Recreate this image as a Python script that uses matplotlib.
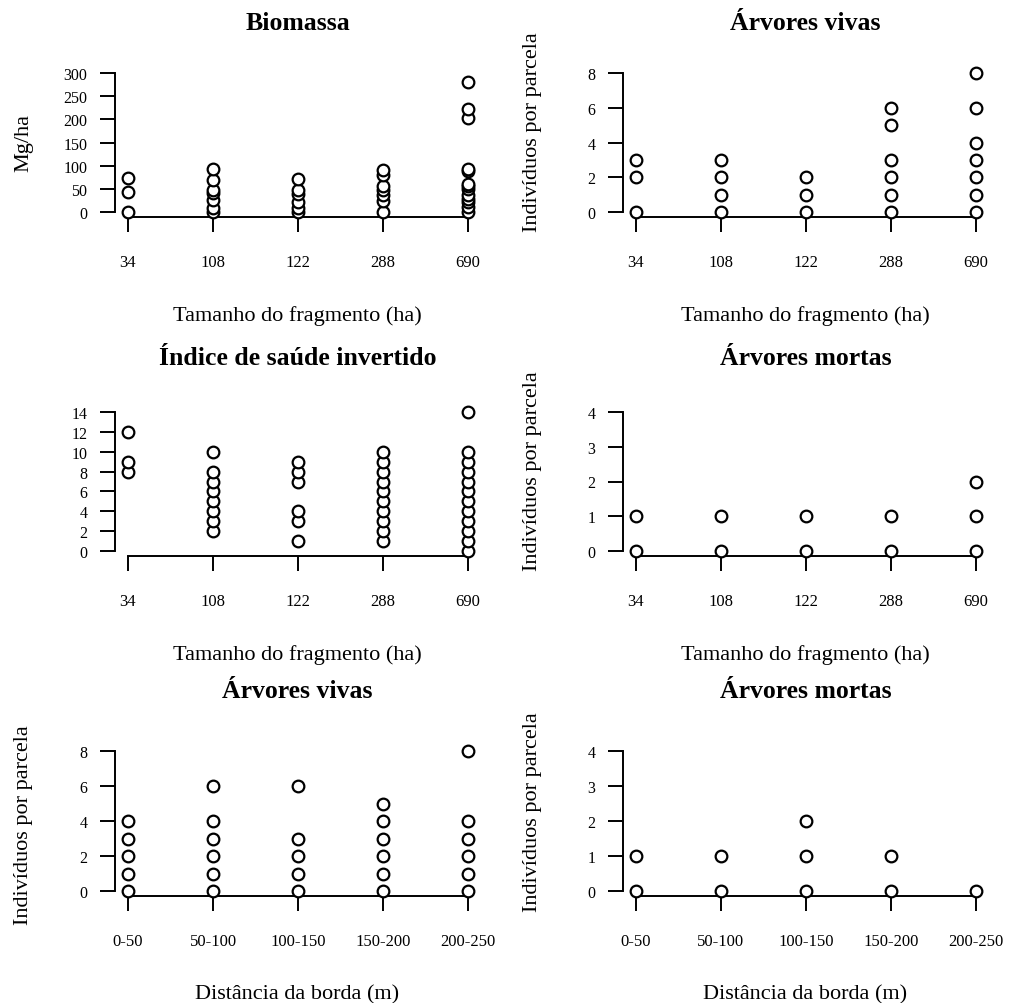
import numpy as np
import matplotlib
matplotlib.use('Agg')
import matplotlib.pyplot as plt
import matplotlib.transforms as mtransforms

plt.rcParams['font.family'] = ['Liberation Serif', 'DejaVu Serif']

# categories
tamanhos = ['34', '108', '122', '288', '690']
distancias = ['0-50', '50-100', '100-150', '150-200', '200-250']

# Biomassa (Mg/ha) by fragment size
biomassa = [
    [0, 43, 73],
    [0, 9, 25, 40, 47, 70, 93],
    [0, 9, 22, 38, 47, 72],
    [0, 23, 36, 47, 56, 80, 90],
    [0, 11, 22, 29, 36, 50, 56, 61, 88, 93, 203, 222, 280],
]
# live trees by fragment size
vivas_tam = [
    [0, 2, 3],
    [0, 1, 2, 3],
    [0, 1, 2],
    [0, 1, 2, 3, 5, 6],
    [0, 1, 2, 3, 4, 6, 8],
]
# inverted health index by fragment size
indice = [
    [8, 9, 12],
    [2, 3, 4, 5, 6, 7, 8, 10],
    [1, 3, 4, 7, 8, 9],
    [1, 2, 3, 4, 5, 6, 7, 8, 9, 10],
    [0, 1, 2, 3, 4, 5, 6, 7, 8, 9, 10, 14],
]
# dead trees by fragment size
mortas_tam = [
    [0, 1],
    [0, 1],
    [0, 1],
    [0, 1],
    [0, 1, 2],
]
# live trees by edge distance
vivas_dist = [
    [0, 1, 2, 3, 4],
    [0, 1, 2, 3, 4, 6],
    [0, 1, 2, 3, 6],
    [0, 1, 2, 3, 4, 5],
    [0, 1, 2, 3, 4, 8],
]
# dead trees by edge distance
mortas_dist = [
    [0, 1],
    [0, 1],
    [0, 1, 2],
    [0, 1],
    [0],
]

W, H = 1013, 1004
fig = plt.figure(figsize=(W / 100, H / 100), dpi=100)


def panel(left_px, top_px, line_px, groups, labels, yticks, title, ylabel, xlabel,
          title_off, ylab_pos=0.5):
    ymax = yticks[-1]
    width_px = 365
    ax = fig.add_axes([left_px / W, 1 - line_px / H, width_px / W, (line_px - top_px) / H])
    zero_px = line_px - 5
    ylo = -ymax * 5 / (zero_px - top_px)
    ax.set_ylim(ylo, ymax)
    ax.set_xlim(1 - 13 / 85, 1 - 13 / 85 + width_px / 85)

    for i, vals in enumerate(groups):
        x = np.full(len(vals), i + 1)
        ax.plot(x, vals, 'o', ms=8.4, mfc='white', mec='black', mew=1.6, clip_on=False, zorder=3)

    for s in ['top', 'right']:
        ax.spines[s].set_visible(False)
    ax.spines['left'].set_bounds(0, ymax)
    ax.spines['bottom'].set_bounds(1, len(labels))
    ax.spines['left'].set_linewidth(1.4)
    ax.spines['bottom'].set_linewidth(1.4)

    ax.set_xticks(range(1, len(labels) + 1))
    ax.set_xticklabels(labels)
    ax.set_yticks(yticks)
    ax.tick_params(axis='both', direction='out', length=10.8, width=1.4)
    ax.tick_params(axis='x', pad=16, labelsize=12)
    ax.tick_params(axis='y', pad=9, labelsize=11.5)

    ax.text(0.5, 1 + title_off / (line_px - top_px), title, transform=ax.transAxes,
            ha='center', va='center', fontsize=18.5, fontweight='bold')
    ax.text(0.5, -98 / (line_px - top_px), xlabel, transform=ax.transAxes,
            ha='center', va='center', fontsize=16)
    if ylabel:
        tr = mtransforms.blended_transform_factory(ax.transAxes, ax.transData)
        ax.text(-91 / width_px, ymax * ylab_pos, ylabel, transform=tr, rotation=90,
                ha='center', va='center', fontsize=16)
    return ax


xl1 = 'Tamanho do fragmento (ha)'
xl2 = 'Distância da borda (m)'
yl = 'Indivíduos por parcela'

panel(115, 74, 218, biomassa, tamanhos, [0, 50, 100, 150, 200, 250, 300],
      'Biomassa', 'Mg/ha', xl1, 51)
panel(623, 74, 218, vivas_tam, tamanhos, [0, 2, 4, 6, 8],
      'Árvores vivas', yl, xl1, 51, 0.58)
panel(115, 413, 557, indice, tamanhos, list(range(0, 15, 2)),
      'Índice de saúde invertido', None, xl1, 54)
panel(623, 413, 557, mortas_tam, tamanhos, [0, 1, 2, 3, 4],
      'Árvores mortas', yl, xl1, 54, 0.58)
panel(115, 752, 897, vivas_dist, distancias, [0, 2, 4, 6, 8],
      'Árvores vivas', yl, xl2, 61, 0.48)
panel(623, 752, 897, mortas_dist, distancias, [0, 1, 2, 3, 4],
      'Árvores mortas', yl, xl2, 61, 0.57)

plt.savefig('out.png', dpi=100)
